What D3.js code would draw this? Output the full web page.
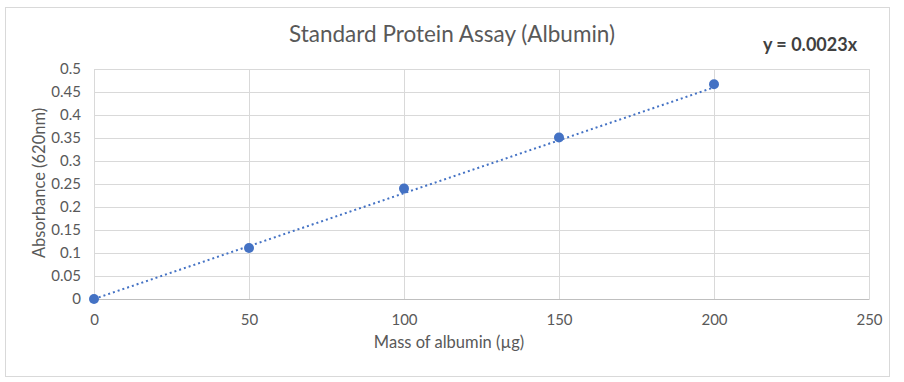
<!DOCTYPE html>
<html>
<head>
    <script src="https://cdnjs.cloudflare.com/ajax/libs/d3/7.8.5/d3.min.js"></script>
    <style>
        body { margin: 0; background: white; }
        .tick text { font-family: Lato, "Open Sans", sans-serif; font-size: 15px; fill: #595959; }
        .grid line { stroke: #d9d9d9; stroke-width: 1; }
        .grid .domain { display: none; }
    </style>
</head>
<body>
    <svg width="904" height="382"></svg>
    <script>
        // Measured standards
        const mass = [0, 50, 100, 150, 200];
        const absorbance = [0, 0.111, 0.240, 0.351, 0.467];
        const xTicks = [0, 50, 100, 150, 200, 250];
        const yTicks = [0, 0.05, 0.1, 0.15, 0.2, 0.25, 0.3, 0.35, 0.4, 0.45, 0.5];
        const slope = 0.0023;

        const margin = {top: 69, right: 35, bottom: 83, left: 94};
        const width = 904 - margin.left - margin.right;
        const height = 382 - margin.top - margin.bottom;

        const root = d3.select("svg");

        // chart frame
        root.append("rect")
            .attr("x", 5.5).attr("y", 7.5)
            .attr("width", 884).attr("height", 369)
            .attr("fill", "white")
            .attr("stroke", "#d9d9d9");

        const svg = root.append("g")
            .attr("transform", `translate(${margin.left},${margin.top})`);

        const x = d3.scaleLinear().domain([0, 250]).range([0, width]);
        const y = d3.scaleLinear().domain([0, 0.5]).range([height, 0]);

        // gridlines
        svg.append("g")
            .attr("class", "grid")
            .attr("transform", `translate(0,${height})`)
            .call(d3.axisBottom(x).tickValues(xTicks).tickSize(-height).tickFormat(""));
        svg.append("g")
            .attr("class", "grid")
            .call(d3.axisLeft(y).tickValues(yTicks).tickSize(-width).tickFormat(""));

        // axes labels only
        const xAxis = svg.append("g")
            .attr("transform", `translate(0,${height})`)
            .call(d3.axisBottom(x).tickValues(xTicks).tickSize(0).tickPadding(15));
        xAxis.select(".domain").attr("stroke", "#bfbfbf");

        const yAxis = svg.append("g")
            .call(d3.axisLeft(y).tickValues(yTicks).tickSize(0).tickPadding(13)
                .tickFormat(d => String(+d.toFixed(2))));
        yAxis.select(".domain").remove();

        // trendline y = 0.0023x
        svg.append("line")
            .attr("x1", x(0)).attr("y1", y(0))
            .attr("x2", x(200)).attr("y2", y(slope * 200))
            .attr("stroke", "#4472c4")
            .attr("stroke-width", 2)
            .attr("stroke-dasharray", "2,3");

        // points
        svg.selectAll(".dot")
            .data(mass.map((m, i) => ({m, a: absorbance[i]})))
            .enter()
            .append("circle")
            .attr("cx", d => x(d.m))
            .attr("cy", d => y(d.a))
            .attr("r", 5)
            .attr("fill", "#4472c4");

        // title
        root.append("text")
            .attr("x", 452).attr("y", 42)
            .attr("text-anchor", "middle")
            .style("font-family", "Lato, 'Open Sans', sans-serif")
            .style("font-size", "22.5px")
            .style("fill", "#595959")
            .text("Standard Protein Assay (Albumin)");

        // equation label
        root.append("text")
            .attr("x", 810).attr("y", 51)
            .attr("text-anchor", "middle")
            .style("font-family", "Lato, 'Open Sans', sans-serif")
            .style("font-size", "18px")
            .style("font-weight", "bold")
            .style("fill", "#404040")
            .text("y = 0.0023x");

        // axis titles
        root.append("text")
            .attr("x", 449).attr("y", 348)
            .attr("text-anchor", "middle")
            .style("font-family", "Lato, 'Open Sans', sans-serif")
            .style("font-size", "16.5px")
            .style("fill", "#595959")
            .text("Mass of albumin (µg)");

        root.append("text")
            .attr("transform", "translate(45,183) rotate(-90)")
            .attr("text-anchor", "middle")
            .style("font-family", "Lato, 'Open Sans', sans-serif")
            .style("font-size", "16.5px")
            .style("fill", "#595959")
            .text("Absorbance (620nm)");
    </script>
</body>
</html>
